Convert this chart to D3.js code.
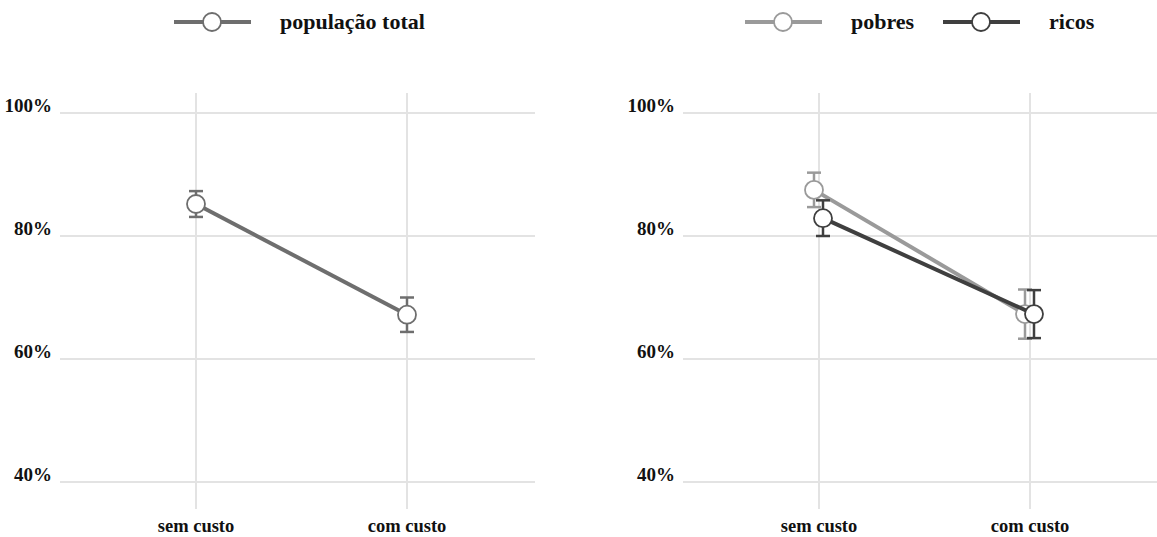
<!DOCTYPE html>
<html>
<head>
<meta charset="utf-8">
<script src="https://cdn.jsdelivr.net/npm/d3@7"></script>
<style>
  html, body { margin: 0; padding: 0; background: #fff; }
  svg text { font-family: "Liberation Serif", "DejaVu Serif", serif; font-weight: bold; fill: #111; }
</style>
</head>
<body>
<svg id="chart" width="1157" height="537"></svg>
<script>
// Categories and tick labels
const categories = ["sem custo", "com custo"];
const yTicks = [0.4, 0.6, 0.8, 1.0];

// Left panel: whole population (mean and error half-width)
const totalValues = [0.852, 0.672];
const totalErrors = [0.021, 0.028];

// Right panel: poor vs rich
const pobresValues = [0.875, 0.673];
const pobresErrors = [0.028, 0.040];
const ricosValues = [0.829, 0.673];
const ricosErrors = [0.029, 0.039];

const svg = d3.select("#chart");

const y = d3.scaleLinear().domain([0.4, 1.0]).range([482, 113]);

function panel(x0, width, series) {
  const g = svg.append("g").attr("transform", `translate(${x0},0)`);
  const x = d3.scalePoint().domain(categories).range([136, 347]);

  // horizontal grid
  g.selectAll("line.hgrid").data(yTicks).join("line")
    .attr("class", "hgrid")
    .attr("x1", 0).attr("x2", width)
    .attr("y1", d => y(d)).attr("y2", d => y(d))
    .attr("stroke", "#e3e3e3").attr("stroke-width", 2);

  // vertical grid
  g.selectAll("line.vgrid").data(categories).join("line")
    .attr("class", "vgrid")
    .attr("x1", d => x(d)).attr("x2", d => x(d))
    .attr("y1", 93).attr("y2", 509)
    .attr("stroke", "#e3e3e3").attr("stroke-width", 2);

  // y tick labels
  g.selectAll("text.ytick").data(yTicks).join("text")
    .attr("class", "ytick")
    .attr("x", -8).attr("y", d => y(d) - 1)
    .attr("text-anchor", "end")
    .style("font-size", "19px")
    .text(d => d3.format(".0%")(d));

  // x category labels
  g.selectAll("text.xtick").data(categories).join("text")
    .attr("class", "xtick")
    .attr("x", d => x(d)).attr("y", 532)
    .attr("text-anchor", "middle")
    .style("font-size", "18.5px")
    .text(d => d);

  series.forEach(s => {
    const pts = categories.map((c, i) => ({ c, v: s.values[i], e: s.errors[i], px: x(c) + s.dodge }));
    const sg = g.append("g");
    // connecting line
    sg.append("path")
      .datum(pts)
      .attr("d", d3.line().x(d => d.px).y(d => y(d.v)))
      .attr("fill", "none").attr("stroke", s.color).attr("stroke-width", 4);
    // error bars
    const eb = sg.selectAll("g.err").data(pts).join("g").attr("class", "err");
    eb.append("line")
      .attr("x1", d => d.px).attr("x2", d => d.px)
      .attr("y1", d => y(d.v - d.e)).attr("y2", d => y(d.v + d.e))
      .attr("stroke", s.color).attr("stroke-width", 2.5);
    [-1, 1].forEach(sign => {
      eb.append("line")
        .attr("x1", d => d.px - 7).attr("x2", d => d.px + 7)
        .attr("y1", d => y(d.v + sign * d.e)).attr("y2", d => y(d.v + sign * d.e))
        .attr("stroke", s.color).attr("stroke-width", 2.5);
    });
    // points
    sg.selectAll("circle").data(pts).join("circle")
      .attr("cx", d => d.px).attr("cy", d => y(d.v)).attr("r", 9)
      .attr("fill", "#fff").attr("stroke", s.color).attr("stroke-width", 1.8);
  });
}

function legendItem(x, label, color) {
  const g = svg.append("g").attr("transform", `translate(${x},22)`);
  g.append("line").attr("x1", 0).attr("x2", 77).attr("y1", 0).attr("y2", 0)
    .attr("stroke", color).attr("stroke-width", 4);
  g.append("circle").attr("cx", 38).attr("cy", 0).attr("r", 9)
    .attr("fill", "#fff").attr("stroke", color).attr("stroke-width", 1.8);
  g.append("text").attr("x", 106).attr("y", 7)
    .style("font-size", "22px").text(label);
}

panel(60, 475, [
  { values: totalValues, errors: totalErrors, color: "#6e6e6e", dodge: 0 }
]);

panel(683, 475, [
  { values: pobresValues, errors: pobresErrors, color: "#9a9a9a", dodge: -5 },
  { values: ricosValues, errors: ricosErrors, color: "#3f3f3f", dodge: 4 }
]);

legendItem(174, "população total", "#6e6e6e");
legendItem(745, "pobres", "#9a9a9a");
legendItem(943, "ricos", "#3f3f3f");
</script>
</body>
</html>
